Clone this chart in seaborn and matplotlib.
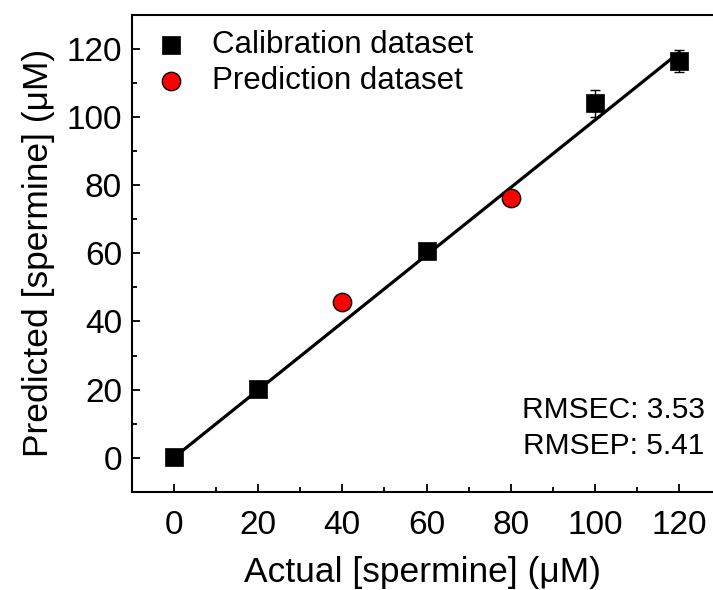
import numpy as np
import pandas as pd
import matplotlib
matplotlib.use("Agg")
import matplotlib.pyplot as plt
import seaborn as sns
from matplotlib.ticker import MultipleLocator

# -----------------------------
# Data
# -----------------------------
cal_actual = [0, 20, 60, 100, 120]
cal_pred = [0.2, 20.3, 60.8, 104.1, 116.4]
cal_err = [0.5, 0.5, 1.0, 4.0, 3.2]

pred_actual = [40, 80]
pred_pred = [45.8, 76.3]
pred_err = [1.0, 2.2]

fit_x = [0, 120]
fit_y = [0.0, 119.0]

rmsec = 3.53
rmsep = 5.41

sns.set_theme(style="ticks")
plt.rcParams["font.family"] = ["Liberation Sans", "DejaVu Sans"]
plt.rcParams["text.color"] = "black"
plt.rcParams["axes.labelcolor"] = "black"

cal = pd.DataFrame({"actual": cal_actual, "pred": cal_pred, "err": cal_err})
prd = pd.DataFrame({"actual": pred_actual, "pred": pred_pred, "err": pred_err})
fit = pd.DataFrame({"actual": fit_x, "pred": fit_y})

fig = plt.figure(figsize=(7.13, 5.90), dpi=100)
ax = fig.add_axes([0.1847, 0.1666, 0.8153, 0.808])

# Fit line
sns.lineplot(data=fit, x="actual", y="pred", color="black", lw=2.3, ax=ax, zorder=2)

# Points
sns.scatterplot(data=cal, x="actual", y="pred", marker="s", s=150, color="black",
                edgecolor="black", linewidth=0.5, ax=ax, zorder=3,
                label="Calibration dataset")
sns.scatterplot(data=prd, x="actual", y="pred", marker="o", s=175, color="red",
                edgecolor="black", linewidth=1.0, ax=ax, zorder=3,
                label="Prediction dataset")

# Error bars
ax.errorbar(cal["actual"], cal["pred"], yerr=cal["err"], fmt="none",
            ecolor="black", elinewidth=1.0, capsize=3.6, capthick=1.0, zorder=4)
ax.errorbar(prd["actual"], prd["pred"], yerr=prd["err"], fmt="none",
            ecolor="black", elinewidth=1.0, capsize=3.6, capthick=1.0, zorder=2.5)

# Axes
ax.set_xlim(-10, 128)
ax.set_ylim(-10, 130)
ax.xaxis.set_major_locator(MultipleLocator(20))
ax.xaxis.set_minor_locator(MultipleLocator(10))
ax.yaxis.set_major_locator(MultipleLocator(20))
ax.yaxis.set_minor_locator(MultipleLocator(10))
ax.tick_params(which="both", direction="in", width=1.3, top=False, right=False,
               labelsize=24, color="black", labelcolor="black")
ax.tick_params(which="major", length=6)
ax.tick_params(which="minor", length=3.5)
ax.tick_params(axis="x", pad=13)
ax.tick_params(axis="y", pad=7)

for side in ["left", "bottom", "top"]:
    ax.spines[side].set_linewidth(1.5)
    ax.spines[side].set_color("black")
ax.spines["right"].set_visible(False)

ax.set_xlabel("Actual [spermine] (\u03bcM)", fontsize=25.5, labelpad=11)
ax.set_ylabel("Predicted [spermine] (\u03bcM)", fontsize=25.5, labelpad=8)

ax.legend(loc="upper left", frameon=False, fontsize=22.5, handlelength=1.0,
          handletextpad=0.8, borderaxespad=0.0, labelspacing=0.2,
          bbox_to_anchor=(0.02, 0.995), markerscale=1.0)

ax.text(0.986, 0.171, f"RMSEC: {rmsec:.2f}", transform=ax.transAxes,
        ha="right", va="center", fontsize=21.5)
ax.text(0.986, 0.096, f"RMSEP: {rmsep:.2f}", transform=ax.transAxes,
        ha="right", va="center", fontsize=21.5)

fig.savefig("out.png", dpi=100)
